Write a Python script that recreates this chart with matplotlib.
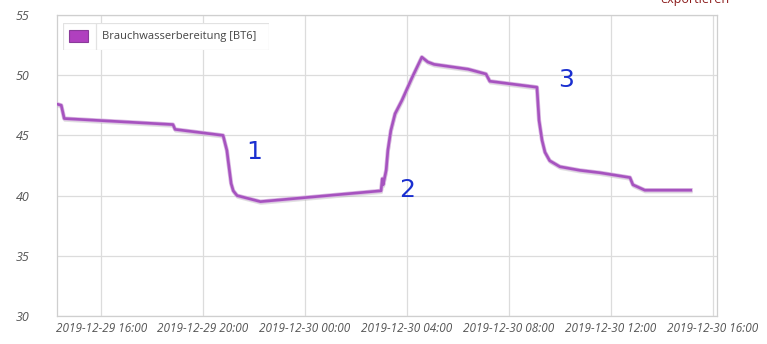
import matplotlib
matplotlib.use("Agg")
import matplotlib.pyplot as plt
import matplotlib.dates as mdates
import matplotlib.patheffects as pe
from matplotlib.patches import Rectangle
import pandas as pd

times = ["2019-12-29 14:16", "2019-12-29 14:26", "2019-12-29 14:33", "2019-12-29 18:49",
         "2019-12-29 18:54", "2019-12-29 20:47", "2019-12-29 20:56", "2019-12-29 20:59",
         "2019-12-29 21:06", "2019-12-29 21:11", "2019-12-29 21:20", "2019-12-29 22:15",
         "2019-12-30 02:59", "2019-12-30 03:02", "2019-12-30 03:04", "2019-12-30 03:11",
         "2019-12-30 03:15", "2019-12-30 03:22", "2019-12-30 03:32", "2019-12-30 03:48",
         "2019-12-30 04:12", "2019-12-30 04:35", "2019-12-30 04:49", "2019-12-30 05:04",
         "2019-12-30 06:24", "2019-12-30 07:06", "2019-12-30 07:15", "2019-12-30 09:06",
         "2019-12-30 09:11", "2019-12-30 09:18", "2019-12-30 09:25", "2019-12-30 09:36",
         "2019-12-30 10:00", "2019-12-30 10:47", "2019-12-30 11:34", "2019-12-30 12:45",
         "2019-12-30 12:52", "2019-12-30 13:20", "2019-12-30 15:08"]
temps = [47.6, 47.5, 46.4, 45.9,
         45.5, 45.0, 43.75, 42.9,
         41.0, 40.4, 40.0, 39.5,
         40.4, 41.4, 40.9, 42.1,
         43.75, 45.4, 46.8, 47.9,
         49.8, 51.5, 51.1, 50.9,
         50.5, 50.1, 49.5, 49.0,
         46.25, 44.6, 43.6, 42.9,
         42.4, 42.1, 41.9, 41.5,
         40.9, 40.45, 40.45]
series_name = "Brauchwasserbereitung [BT6]"
y_ticks = [30, 35, 40, 45, 50, 55]
x_ticks = ["2019-12-29 16:00", "2019-12-29 20:00", "2019-12-30 00:00", "2019-12-30 04:00",
           "2019-12-30 08:00", "2019-12-30 12:00", "2019-12-30 16:00"]
x_range = ["2019-12-29 14:16", "2019-12-30 16:10"]
annotations = [("1", "2019-12-29 22:00", 43.6), ("2", "2019-12-30 04:00", 40.5),
               ("3", "2019-12-30 10:15", 49.6)]

t = pd.to_datetime(times)
W, H = 767, 344
fig = plt.figure(figsize=(W / 100, H / 100), dpi=100)
ax = fig.add_axes([57 / W, 1 - 316 / H, (717 - 57) / W, (316 - 15) / H])

line_color = "#a653bf"
ax.plot(t, temps, color=line_color, lw=1.9, solid_joinstyle="round", zorder=3,
        path_effects=[pe.SimpleLineShadow(offset=(0.4, -1.4), shadow_color="#aaaaaa", alpha=0.35),
                      pe.Stroke(linewidth=3.0, foreground="#d9b6e2"),
                      pe.Normal()])

ax.set_ylim(30, 55)
ax.set_yticks(y_ticks)
ax.set_xlim(pd.to_datetime(x_range[0]), pd.to_datetime(x_range[1]))
ax.set_xticks(pd.to_datetime(x_ticks))
ax.xaxis.set_major_formatter(mdates.DateFormatter("%Y-%m-%d %H:%M"))

ax.grid(True, color="#dcdcdc", lw=0.9)
ax.set_axisbelow(True)
for s in ax.spines.values():
    s.set_color("#cfcfcf")
    s.set_linewidth(0.9)
ax.tick_params(length=0)
for lbl in ax.get_xticklabels():
    lbl.set_fontfamily("Open Sans")
    lbl.set_fontstyle("italic")
    lbl.set_fontsize(8.5)
    lbl.set_color("#555555")
for lbl in ax.get_yticklabels():
    lbl.set_fontfamily("Open Sans")
    lbl.set_fontstyle("italic")
    lbl.set_fontsize(9)
    lbl.set_color("#555555")
ax.tick_params(axis="y", pad=20)
ax.tick_params(axis="x", pad=4)

# legend box
leg_ax = fig.add_axes([63 / W, 1 - 50 / H, (269 - 63) / W, (50 - 23) / H])
leg_ax.set_xlim(0, 206)
leg_ax.set_ylim(0, 27)
leg_ax.axis("off")
leg_ax.add_patch(Rectangle((0, 0), 206, 27, facecolor="white", edgecolor="#e2e2e2", lw=0.9))
leg_ax.plot([33, 33], [0, 27], color="#e2e2e2", lw=0.9)
leg_ax.add_patch(Rectangle((6, 8), 19, 12, facecolor="#b040bf", edgecolor="#8a3a9a", lw=0.8))
leg_ax.text(39, 13.5, series_name, va="center", ha="left", fontsize=8,
            family="Open Sans", color="#444444")

for txt, tm, val in annotations:
    ax.text(pd.to_datetime(tm), val, txt, color="#1a2fd0", fontsize=18,
            family="DejaVu Sans", ha="center", va="center")

fig.text(695 / W, 1 + 1 / H, "exportieren", color="#8b1a1a", fontsize=9,
         family="Open Sans", ha="center", va="center")

fig.savefig("out.png", dpi=100)
